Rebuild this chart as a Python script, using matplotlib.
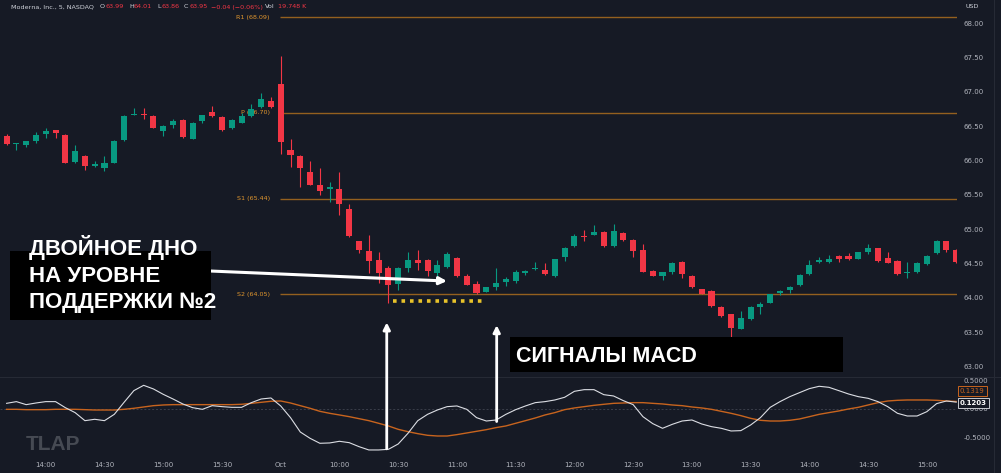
import matplotlib
matplotlib.use('Agg')
import matplotlib.pyplot as plt
from matplotlib.patches import Rectangle, ConnectionPatch
from matplotlib.lines import Line2D

# ---------------- data ----------------
opens = [66.36, 66.24, 66.22, 66.29, 66.38, 66.44, 66.37, 65.98, 66.07, 65.93,
         65.89, 65.97, 66.30, 66.67, 66.68, 66.65, 66.43, 66.52, 66.59, 66.32,
         66.58, 66.71, 66.64, 66.47, 66.55, 66.65, 66.78, 66.87, 67.11, 66.15,
         66.07, 65.83, 65.64, 65.58, 65.58, 65.30, 64.82, 64.68, 64.55, 64.44,
         64.20, 64.43, 64.55, 64.55, 64.36, 64.45, 64.58, 64.31, 64.20, 64.09,
         64.16, 64.23, 64.25, 64.36, 64.42, 64.41, 64.31, 64.59, 64.75, 64.90,
         64.92, 64.96, 64.75, 64.94, 64.84, 64.70, 64.39, 64.31, 64.37, 64.52,
         64.32, 64.12, 64.10, 63.87, 63.76, 63.55, 63.69, 63.86, 63.93, 64.07,
         64.11, 64.19, 64.34, 64.52, 64.52, 64.61, 64.61, 64.57, 64.66, 64.72,
         64.58, 64.54, 64.36, 64.37, 64.49, 64.65, 64.82, 64.70]
highs = [66.38, 66.26, 66.29, 66.41, 66.47, 66.45, 66.38, 66.22, 66.08, 65.99,
         66.06, 66.30, 66.66, 66.76, 66.76, 66.66, 66.52, 66.60, 66.61, 66.56,
         66.67, 66.80, 66.65, 66.60, 66.70, 66.82, 66.99, 66.92, 67.52, 66.31,
         66.08, 66.00, 65.89, 65.69, 65.83, 65.37, 64.83, 64.91, 64.67, 64.46,
         64.45, 64.67, 64.70, 64.56, 64.55, 64.67, 64.59, 64.35, 64.25, 64.16,
         64.43, 64.30, 64.40, 64.41, 64.52, 64.50, 64.57, 64.74, 64.93, 64.98,
         65.06, 64.97, 65.07, 64.96, 64.85, 64.78, 64.40, 64.38, 64.52, 64.53,
         64.33, 64.13, 64.11, 63.88, 63.77, 63.80, 63.88, 63.94, 64.06, 64.11,
         64.17, 64.34, 64.55, 64.60, 64.62, 64.63, 64.65, 64.67, 64.78, 64.73,
         64.66, 64.55, 64.52, 64.52, 64.62, 64.84, 64.83, 64.71]
lows = [66.22, 66.16, 66.19, 66.26, 66.33, 66.33, 65.96, 65.96, 65.86, 65.90,
        65.85, 65.96, 66.29, 66.66, 66.60, 66.47, 66.36, 66.48, 66.33, 66.31,
        66.54, 66.64, 66.43, 66.46, 66.54, 66.64, 66.77, 66.77, 66.10, 65.90,
        65.61, 65.64, 65.50, 65.40, 65.20, 64.88, 64.65, 64.36, 64.21, 63.92,
        64.11, 64.38, 64.40, 64.31, 64.28, 64.44, 64.30, 64.18, 64.06, 64.08,
        64.11, 64.17, 64.22, 64.33, 64.40, 64.33, 64.30, 64.54, 64.74, 64.82,
        64.91, 64.74, 64.74, 64.83, 64.60, 64.37, 64.31, 64.26, 64.34, 64.29,
        64.14, 64.05, 63.86, 63.72, 63.42, 63.54, 63.68, 63.76, 63.92, 64.04,
        64.07, 64.17, 64.33, 64.51, 64.50, 64.52, 64.55, 64.56, 64.64, 64.52,
        64.50, 64.33, 64.29, 64.36, 64.47, 64.64, 64.67, 64.51]
closes = [66.24, 66.25, 66.28, 66.37, 66.43, 66.40, 65.97, 66.14, 65.92, 65.94,
          65.96, 66.29, 66.65, 66.68, 66.66, 66.48, 66.51, 66.58, 66.34, 66.55,
          66.66, 66.65, 66.44, 66.59, 66.65, 66.75, 66.89, 66.78, 66.27, 66.08,
          65.89, 65.65, 65.55, 65.62, 65.36, 64.90, 64.70, 64.53, 64.36, 64.19,
          64.43, 64.55, 64.51, 64.39, 64.48, 64.64, 64.31, 64.19, 64.07, 64.15,
          64.22, 64.28, 64.37, 64.39, 64.44, 64.34, 64.56, 64.73, 64.90, 64.88,
          64.96, 64.75, 64.97, 64.84, 64.68, 64.38, 64.32, 64.37, 64.51, 64.34,
          64.15, 64.06, 63.88, 63.73, 63.56, 63.71, 63.87, 63.91, 64.05, 64.10,
          64.16, 64.33, 64.47, 64.55, 64.56, 64.57, 64.56, 64.66, 64.73, 64.53,
          64.51, 64.34, 64.37, 64.51, 64.61, 64.83, 64.70, 64.52]

macd_line = [0.099, 0.129, 0.076, 0.105, 0.129, 0.129, 0.023, -0.064, -0.205, -0.181,
             -0.205, -0.094, 0.117, 0.322, 0.415, 0.351, 0.257, 0.175, 0.088, 0.023,
             -0.006, 0.058, 0.041, 0.029, 0.029, 0.111, 0.175, 0.193, 0.053, -0.152,
             -0.404, -0.515, -0.602, -0.596, -0.567, -0.591, -0.661, -0.719, -0.719, -0.708,
             -0.614, -0.427, -0.205, -0.094, -0.018, 0.041, 0.053, -0.006, -0.152, -0.211,
             -0.193, -0.094, -0.012, 0.053, 0.111, 0.129, 0.158, 0.205, 0.310, 0.339,
             0.339, 0.251, 0.228, 0.146, 0.076, -0.135, -0.257, -0.339, -0.269, -0.211,
             -0.193, -0.263, -0.310, -0.339, -0.386, -0.380, -0.281, -0.152, 0.029, 0.129,
             0.216, 0.287, 0.357, 0.398, 0.380, 0.322, 0.263, 0.216, 0.187, 0.129,
             0.041, -0.076, -0.123, -0.123, -0.047, 0.094, 0.140, 0.1203]
signal_line = [-0.006, -0.006, -0.012, -0.012, -0.012, -0.006, -0.006, -0.006, -0.012, -0.018,
               -0.018, -0.018, -0.006, 0.012, 0.035, 0.058, 0.070, 0.076, 0.076, 0.076,
               0.076, 0.076, 0.076, 0.076, 0.082, 0.099, 0.117, 0.135, 0.140, 0.105,
               0.058, 0.012, -0.041, -0.076, -0.105, -0.135, -0.170, -0.205, -0.251, -0.298,
               -0.357, -0.398, -0.433, -0.462, -0.474, -0.474, -0.450, -0.421, -0.392, -0.363,
               -0.327, -0.298, -0.251, -0.205, -0.158, -0.105, -0.064, -0.012, 0.018, 0.041,
               0.064, 0.082, 0.099, 0.105, 0.111, 0.111, 0.099, 0.088, 0.070, 0.058,
               0.035, 0.018, -0.006, -0.041, -0.076, -0.117, -0.164, -0.199, -0.211, -0.211,
               -0.199, -0.175, -0.135, -0.094, -0.064, -0.035, 0.0, 0.029, 0.070, 0.111,
               0.140, 0.152, 0.158, 0.158, 0.158, 0.152, 0.140, 0.1319]

time_tick_idx = [4, 10, 16, 22, 28, 34, 40, 46, 52, 58, 64, 70, 76, 82, 88, 94]
time_tick_labels = ['14:00', '14:30', '15:00', '15:30', 'Oct', '10:00', '10:30', '11:00',
                    '11:30', '12:00', '12:30', '13:00', '13:30', '14:00', '14:30', '15:00']
price_ticks = [63.0, 63.5, 64.0, 64.5, 65.0, 65.5, 66.0, 66.5, 67.0, 67.5, 68.0]
macd_ticks = [0.5, 0.0, -0.5]
level_names = ['R1', 'P', 'S1', 'S2']
level_values = [68.09, 66.70, 65.44, 64.05]

# ---------------- style ----------------
W, H = 1001, 473
BG = '#161a25'
UP = '#089981'
DN = '#f23645'
TXT = '#b2b5be'
LEVEL = '#94601f'
LEVEL_TXT = '#e0962e'
SIG = '#c8641e'
MAC = '#dcdee4'
SMALL = 5
plt.rcParams['font.family'] = ['DejaVu Sans']

fig = plt.figure(figsize=(W / 100, H / 100), dpi=100)
fig.patch.set_facecolor(BG)

ax = fig.add_axes([0, (H - 376) / H, 957 / W, 376 / H])
axm = fig.add_axes([0, (H - 456) / H, 957 / W, 79 / H])
for a in (ax, axm):
    a.patch.set_visible(False)
    for s in a.spines.values():
        s.set_visible(False)

xl = (-0.674, 97.08)
ax.set_xlim(*xl)
axm.set_xlim(*xl)
ax.set_ylim(62.859, 68.340)
axm.set_ylim(-0.825, 0.561)

# candles
n = len(opens)
xs = list(range(n))
cols = [UP if c >= o else DN for o, c in zip(opens, closes)]
ax.vlines(xs, lows, highs, colors=cols, lw=0.8, zorder=3)
bodies = [max(abs(c - o), 0.02) for o, c in zip(opens, closes)]
bottoms = [min(o, c) if abs(c - o) >= 0.02 else (o + c) / 2 - 0.01 for o, c in zip(opens, closes)]
ax.bar(xs, bodies, bottom=bottoms, width=0.62, color=cols, linewidth=0, zorder=4)

# pivot levels
ax.hlines(level_values, 27.9, 100, colors=LEVEL, lw=1.0, zorder=2)
for nm, lv in zip(level_names, level_values):
    ax.text(26.9, lv, f'{nm} ({lv:.2f})', ha='right', va='center', color=LEVEL_TXT,
            fontsize=4.6, zorder=2)

# price axis
ax.yaxis.tick_right()
ax.set_yticks(price_ticks)
ax.set_yticklabels([f'{p:.2f}' for p in price_ticks])
ax.tick_params(axis='y', length=0, pad=5, labelsize=SMALL, labelcolor=TXT)
ax.set_xticks([])

# MACD
axm.axhline(0, color='#3b3f4b', lw=0.7, ls=(0, (2, 2)), zorder=1)
axm.plot(xs, signal_line, color=SIG, lw=1.0, zorder=3)
axm.plot(xs, macd_line, color=MAC, lw=0.8, zorder=4)
axm.yaxis.tick_right()
axm.set_yticks(macd_ticks)
axm.set_yticklabels([f'{v:.4f}' for v in macd_ticks])
axm.tick_params(axis='y', length=0, pad=5, labelsize=SMALL, labelcolor=TXT)
axm.set_xticks(time_tick_idx)
axm.set_xticklabels(time_tick_labels)
axm.tick_params(axis='x', length=0, pad=4, labelsize=SMALL, labelcolor=TXT)

# value tags
fig.text(960 / W, 1 - 391 / H, f'{signal_line[-1]:.4f}', color=SIG, fontsize=SMALL,
         va='center', ha='left', zorder=20,
         bbox=dict(boxstyle='square,pad=0.3', fc=BG, ec=SIG, lw=0.7))
fig.text(960 / W, 1 - 403 / H, f'{macd_line[-1]:.4f}', color='white', fontsize=SMALL,
         va='center', ha='left', zorder=20, fontweight='bold',
         bbox=dict(boxstyle='square,pad=0.3', fc=BG, ec='#c8cad0', lw=0.7))

# separators
fig.add_artist(Line2D([0, 1], [1 - 376.5 / H, 1 - 376.5 / H], color='#262a35', lw=0.8))
fig.add_artist(Line2D([994 / W, 994 / W], [0, 1], color='#262a35', lw=0.8))

# header
HF = 4.55
fig.text(11 / W, 1 - 7 / H, 'Moderna, Inc., 5, NASDAQ', color='#d1d4dc', fontsize=HF, va='center')
hdr = [(100, 'O', '#d1d4dc'), (106, '63.99', DN), (129, 'H', '#d1d4dc'), (134, '64.01', DN),
       (157, 'L', '#d1d4dc'), (161, '63.86', DN), (184, 'C', '#d1d4dc'), (189, '63.95', DN),
       (211, '\u22120.04 (\u22120.06%)', DN), (265, 'Vol', '#d1d4dc'), (278, '19.748 K', DN)]
for x0, t, c in hdr:
    fig.text(x0 / W, 1 - 7 / H, t, color=c, fontsize=HF, va='center')
fig.text(965 / W, 1 - 7 / H, 'USD', color='#d1d4dc', fontsize=HF, va='center')

# watermark
fig.text(26 / W, 1 - 450 / H, 'TLAP', color='#464a53', fontsize=15, fontweight='bold',
         family='Liberation Sans', va='baseline')

# annotations: black boxes
fig.add_artist(Rectangle((10 / W, 1 - 320 / H), 201 / W, 69 / H, transform=fig.transFigure,
                         fc='black', ec='none', zorder=10))
fig.add_artist(Rectangle((510 / W, 1 - 372 / H), 333 / W, 35 / H, transform=fig.transFigure,
                         fc='black', ec='none', zorder=10))
for yb, t in [(255, 'ДВОЙНОЕ ДНО'), (281.5, 'НА УРОВНЕ'), (307.5, 'ПОДДЕРЖКИ №2')]:
    fig.text(29 / W, 1 - yb / H, t, color='white', fontsize=16, fontweight='bold',
             family='Liberation Sans', va='baseline', zorder=11)
fig.text(516 / W, 1 - 362 / H, 'СИГНАЛЫ MACD', color='white', fontsize=15.5, fontweight='bold',
         family='Liberation Sans', va='baseline', zorder=11)

# arrow from text box
ax.annotate('', xy=(44.98, 64.243), xytext=(20.88, 64.389),
            arrowprops=dict(arrowstyle='-|>', color='white', lw=2.2, mutation_scale=11,
                            shrinkA=0, shrinkB=0), zorder=12)

# yellow dotted underline
ax.plot([39.5, 48.6], [63.956, 63.956], color='#e8c22a', lw=2.6, ls=(0, (1.0, 1.35)),
        solid_capstyle='butt', dash_capstyle='butt', zorder=6)

# vertical signal arrows
for xi, mv, pv in [(38.83, -0.70, 63.64), (50.06, -0.22, 63.60)]:
    con = ConnectionPatch(xyA=(xi, mv), coordsA=axm.transData, xyB=(xi, pv), coordsB=ax.transData,
                          arrowstyle='-|>', color='white', lw=2.0, mutation_scale=10,
                          shrinkA=0, shrinkB=0, zorder=12)
    fig.add_artist(con)

fig.savefig('out.png', dpi=100, facecolor=BG)
